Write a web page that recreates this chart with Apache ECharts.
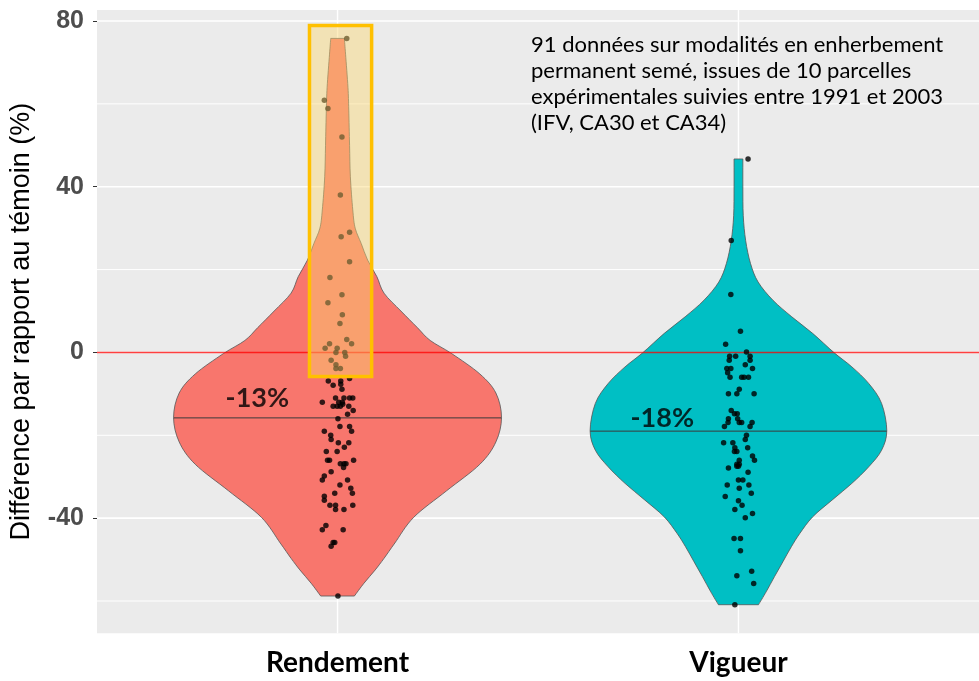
<!DOCTYPE html>
<html>
<head>
<meta charset="utf-8">
<script src="https://cdn.jsdelivr.net/npm/echarts@6/dist/echarts.min.js"></script>
<style>
  html, body { margin: 0; padding: 0; background: #ffffff; }
  #chart { width: 979px; height: 681px; }
</style>
</head>
<body>
<div id="chart"></div>
<script>
// ---- data -------------------------------------------------------------
const categories = ['Rendement', 'Vigueur'];
const yTickValues = [-40, 0, 40, 80];
const yMinorValues = [-60, -20, 20, 60];
const medians = [-15.8, -19.0];
const means = [-13, -18];

// violin outlines: level (%) and half-width (category units)
const rendLevels = [75.8, 72, 64, 58.5, 50, 42.4, 34.4, 30, 26.3, 22.3, 18.3, 14.3, 10, 6, 2.9, -0.3, -5.2, -9.8, -15.7, -21.6, -27, -33.4, -39.8, -46, -49.7, -52.5, -55.7, -58.8];
const rendHalfWidth = [0.017, 0.020, 0.026, 0.028, 0.030, 0.032, 0.038, 0.044, 0.059, 0.075, 0.098, 0.116, 0.158, 0.199, 0.231, 0.285, 0.355, 0.395, 0.409, 0.395, 0.355, 0.272, 0.190, 0.143, 0.116, 0.094, 0.066, 0.042];
const vigLevels = [46.7, 40, 33, 27, 21.5, 17, 12.6, 8.6, 4.6, -0.1, -3.5, -7.5, -12.3, -18.9, -23.6, -27.6, -31.6, -35.6, -39.7, -43.7, -46.9, -50.5, -54.1, -57.8, -60.9];
const vigHalfWidth = [0.011, 0.011, 0.012, 0.018, 0.030, 0.049, 0.086, 0.133, 0.185, 0.239, 0.283, 0.325, 0.357, 0.370, 0.357, 0.325, 0.283, 0.234, 0.185, 0.153, 0.132, 0.111, 0.090, 0.069, 0.050];

// observations (%) with their horizontal jitter (category units)
const rendValues = [75.8, 60.9, 58.9, 52.0, 38.0, 29.0, 27.9, 21.9, 18.1, 13.9, 12.0, 9.1, 7.0, 3.1, 2.1, 2.1, 1.0, 1.0, 0, 0, -0.9, -1.9, -3.0, -3.9, -3.9, -6.3, -6.9, -7.9, -6.9, -7.7, -8.9, -12.0, -11.0, -12.0, -12.0, -11.0, -11.0, -11.0, -13.0, -13.0, -13.0, -12.5, -13.0, -14.0, -14.9, -16.0, -17.9, -17.9, -19.0, -19.0, -20.0, -21.0, -21.8, -21.8, -22.9, -23.9, -23.9, -26.0, -26.0, -26.0, -26.9, -26.9, -26.9, -27.8, -28.8, -29.8, -30.8, -30.8, -32.0, -32.8, -34.0, -34.0, -34.7, -35.7, -36.9, -36.9, -37.9, -37.9, -36.9, -41.8, -42.8, -42.8, -45.9, -45.9, -46.8, -58.8];
const rendJitter = [0.023, -0.033, -0.024, 0.011, 0.007, 0.030, 0.009, 0.030, -0.019, 0.011, -0.024, 0.012, 0.006, 0.023, -0.020, 0.035, -0.031, -0.001, -0.004, 0.018, 0.020, -0.016, -0.004, -0.004, 0.007, 0.030, -0.023, -0.011, 0.008, 0.008, 0.011, -0.038, -0.005, 0.003, 0.012, 0.016, 0.030, 0.038, -0.011, -0.001, 0.007, 0.013, 0.028, 0.039, 0.025, 0.001, 0.006, 0.030, 0.035, -0.033, -0.017, -0.016, 0.002, 0.028, 0.017, -0.028, -0.001, -0.025, -0.020, 0.040, 0.007, 0.016, 0.021, 0.015, -0.016, -0.033, -0.038, 0.025, 0.006, 0.033, 0.037, -0.007, -0.033, -0.033, -0.019, -0.005, -0.005, 0.016, 0.038, -0.029, -0.038, 0.014, -0.011, -0.007, -0.016, 0.001];
const vigValues = [46.7, 27.0, 14.0, 5.1, 2.0, 0.1, -0.9, -0.9, -0.9, -1.9, -1.9, -3.0, -3.9, -3.9, -3.9, -4.9, -6.0, -6.0, -6.0, -6.0, -8.9, -10.0, -10.0, -10.0, -14.0, -14.8, -14.8, -16.0, -16.9, -16.0, -16.9, -16.9, -17.9, -16.9, -17.9, -20.0, -21.0, -21.8, -21.8, -23.0, -23.9, -23.9, -23.0, -25.0, -26.0, -26.0, -27.0, -27.0, -27.5, -27.5, -27.9, -28.9, -30.8, -30.8, -32.0, -32.0, -32.8, -34.0, -34.8, -35.8, -36.9, -37.9, -38.9, -39.9, -44.9, -44.9, -47.9, -52.8, -53.9, -55.8, -60.9];
const vigJitter = [0.024, -0.018, -0.019, 0.005, -0.032, 0.020, -0.022, -0.007, 0.029, -0.023, 0.029, 0.017, -0.029, -0.019, 0.035, -0.027, -0.021, 0.008, 0.014, 0.025, 0.002, -0.025, -0.004, 0.039, -0.018, -0.010, -0.003, -0.025, -0.026, -0.002, 0.002, 0.008, -0.035, 0.034, 0.029, 0.020, 0.017, -0.037, -0.014, -0.009, -0.010, -0.004, 0.023, 0.035, 0.040, 0.002, -0.004, 0.002, 0.000, -0.004, -0.025, 0.024, 0.000, 0.011, -0.028, 0.026, 0.002, 0.032, -0.033, 0.000, 0.009, -0.009, 0.035, 0.017, -0.011, 0.005, 0.005, 0.033, -0.004, 0.038, -0.009];

const noteLines = [
  '91 données sur modalités en enherbement',
  'permanent semé, issues de 10 parcelles',
  'expérimentales suivies entre 1991 et 2003',
  '(IFV, CA30 et CA34)'
];
const yTitle = 'Différence par rapport au témoin (%)';

// ---- drawing ----------------------------------------------------------
const profiles = [
  { levels: rendLevels, hw: rendHalfWidth },
  { levels: vigLevels, hw: vigHalfWidth }
];
const fills = ['#F8766D', '#00BFC4'];
const X_MIN = 0.4, X_MAX = 2.6;
const Y_MIN = -67.8, Y_MAX = 82.66;

function halfWidthAt(p, v) {
  for (let i = 0; i < p.levels.length - 1; i++) {
    const a = p.levels[i], b = p.levels[i + 1];
    if (v <= a && v >= b) {
      const t = (a - v) / (a - b);
      return p.hw[i] + t * (p.hw[i + 1] - p.hw[i]);
    }
  }
  return 0;
}

// Catmull-Rom through the outline points, written as cubic Bezier segments
function curveThrough(pts, first) {
  let d = (first ? 'M' : 'L') + pts[0][0] + ' ' + pts[0][1];
  for (let k = 0; k < pts.length - 1; k++) {
    const p0 = pts[k - 1] || pts[k];
    const p1 = pts[k];
    const p2 = pts[k + 1];
    const p3 = pts[k + 2] || p2;
    const c1x = p1[0] + (p2[0] - p0[0]) / 6, c1y = p1[1] + (p2[1] - p0[1]) / 6;
    const c2x = p2[0] - (p3[0] - p1[0]) / 6, c2y = p2[1] - (p3[1] - p1[1]) / 6;
    d += ' C' + c1x + ' ' + c1y + ' ' + c2x + ' ' + c2y + ' ' + p2[0] + ' ' + p2[1];
  }
  return d;
}

// right side top to bottom, flat bottom, left side bottom to top, flat top
function buildPath(right, left) {
  const back = left.slice().reverse();
  return curveThrough(right, true) + ' ' + curveThrough(back, false) + ' Z';
}

function renderViolin(params, api) {
  const i = params.dataIndex;
  const c = api.value(0);
  const p = profiles[i];
  const right = [], left = [];
  for (let k = 0; k < p.levels.length; k++) {
    right.push(api.coord([c + p.hw[k], p.levels[k]]));
    left.push(api.coord([c - p.hw[k], p.levels[k]]));
  }
  const mw = halfWidthAt(p, medians[i]);
  const m0 = api.coord([c - mw, medians[i]]);
  const m1 = api.coord([c + mw, medians[i]]);
  return {
    type: 'group',
    children: [
      {
        type: 'path',
        shape: { pathData: buildPath(right, left) },
        style: { fill: fills[i], stroke: '#555555', lineWidth: 0.8 }
      },
      { type: 'line', shape: { x1: m0[0], y1: m0[1], x2: m1[0], y2: m1[1] }, style: { stroke: '#3a3a3a', lineWidth: 1 } }
    ]
  };
}

function hLine(width, color) {
  return function (params, api) {
    const v = api.value(0);
    const a = api.coord([X_MIN, v]);
    const b = api.coord([X_MAX, v]);
    return { type: 'line', shape: { x1: a[0], y1: a[1], x2: b[0], y2: b[1] }, style: { stroke: color, lineWidth: width } };
  };
}

function renderVGrid(params, api) {
  const v = api.value(0);
  const a = api.coord([v, Y_MIN]);
  const b = api.coord([v, Y_MAX]);
  return { type: 'line', shape: { x1: a[0], y1: a[1], x2: b[0], y2: b[1] }, style: { stroke: '#ffffff', lineWidth: 1.4 } };
}

// highlighted upper tail of the Rendement distribution
function renderBox(params, api) {
  const a = api.coord([0.930, 78.9]);
  const b = api.coord([1.085, -5.8]);
  return {
    type: 'rect',
    shape: { x: a[0], y: a[1], width: b[0] - a[0], height: b[1] - a[1] },
    style: { fill: 'rgba(251,215,111,0.44)', stroke: '#FFC000', lineWidth: 3.5 }
  };
}

const chart = echarts.init(document.getElementById('chart'), null, { renderer: 'canvas' });

const option = {
  animation: false,
  backgroundColor: '#ffffff',
  grid: {
    left: 94, top: 10, width: 893.6, height: 623.3,
    show: true, backgroundColor: '#EBEBEB', borderWidth: 0
  },
  xAxis: {
    type: 'value', min: X_MIN, max: X_MAX,
    axisLine: { show: false },
    splitLine: { show: false },
    axisTick: { show: true, customValues: [1, 2], length: 4, lineStyle: { color: '#333333', width: 1 } },
    axisLabel: {
      show: true, customValues: [1, 2], margin: 16,
      formatter: v => categories[Math.round(v) - 1],
      fontFamily: 'Lato', fontWeight: 'bold', fontSize: 28, color: '#000000'
    }
  },
  yAxis: {
    type: 'value', min: Y_MIN, max: Y_MAX,
    name: yTitle, nameLocation: 'middle', nameGap: 62, nameRotate: 90,
    nameTextStyle: { fontFamily: 'Liberation Sans', fontSize: 27, color: '#000000' },
    axisLine: { show: false },
    splitLine: { show: false },
    axisTick: { show: true, customValues: yTickValues, length: 4, lineStyle: { color: '#333333', width: 1 } },
    axisLabel: {
      show: true, customValues: yTickValues, margin: 13,
      fontFamily: 'Liberation Sans', fontWeight: 'bold', fontSize: 25, color: '#4D4D4D'
    }
  },
  series: [
    { type: 'custom', z: 1, silent: true, data: yMinorValues.map(v => [v]), renderItem: hLine(1, '#ffffff') },
    { type: 'custom', z: 1, silent: true, data: yTickValues.map(v => [v]), renderItem: hLine(1.6, '#ffffff') },
    { type: 'custom', z: 1, silent: true, data: [[1], [2]], renderItem: renderVGrid },
    { type: 'custom', z: 2, silent: true, data: [[1], [2]], renderItem: renderViolin },
    { type: 'custom', z: 3, silent: true, data: [[0]], renderItem: hLine(1.5, 'rgba(255,0,0,0.75)') },
    {
      type: 'scatter', z: 4, silent: true, symbol: 'circle', symbolSize: 5.5,
      itemStyle: { color: '#000000' },
      data: rendValues.map((v, i) => [1 + rendJitter[i], v])
    },
    {
      type: 'scatter', z: 4, silent: true, symbol: 'circle', symbolSize: 5.5,
      itemStyle: { color: '#000000' },
      data: vigValues.map((v, i) => [2 + vigJitter[i], v])
    },
    { type: 'custom', z: 5, silent: true, data: [[1]], renderItem: renderBox },
    {
      type: 'scatter', z: 6, silent: true, symbolSize: 0,
      data: [[0.80, -11.1, means[0]], [1.81, -15.9, means[1]]],
      label: {
        show: true, position: 'inside',
        formatter: p => p.value[2] + '%',
        fontFamily: 'Lato', fontWeight: 'bold', fontSize: 27, color: '#000000'
      }
    }
  ],
  graphic: [{
    type: 'text', left: 531, top: 32, z: 10,
    style: {
      text: noteLines.join('\n'),
      fontFamily: 'Lato', fontSize: 22, lineHeight: 26, fill: '#000000'
    }
  }]
};

chart.setOption(option);
</script>
</body>
</html>
